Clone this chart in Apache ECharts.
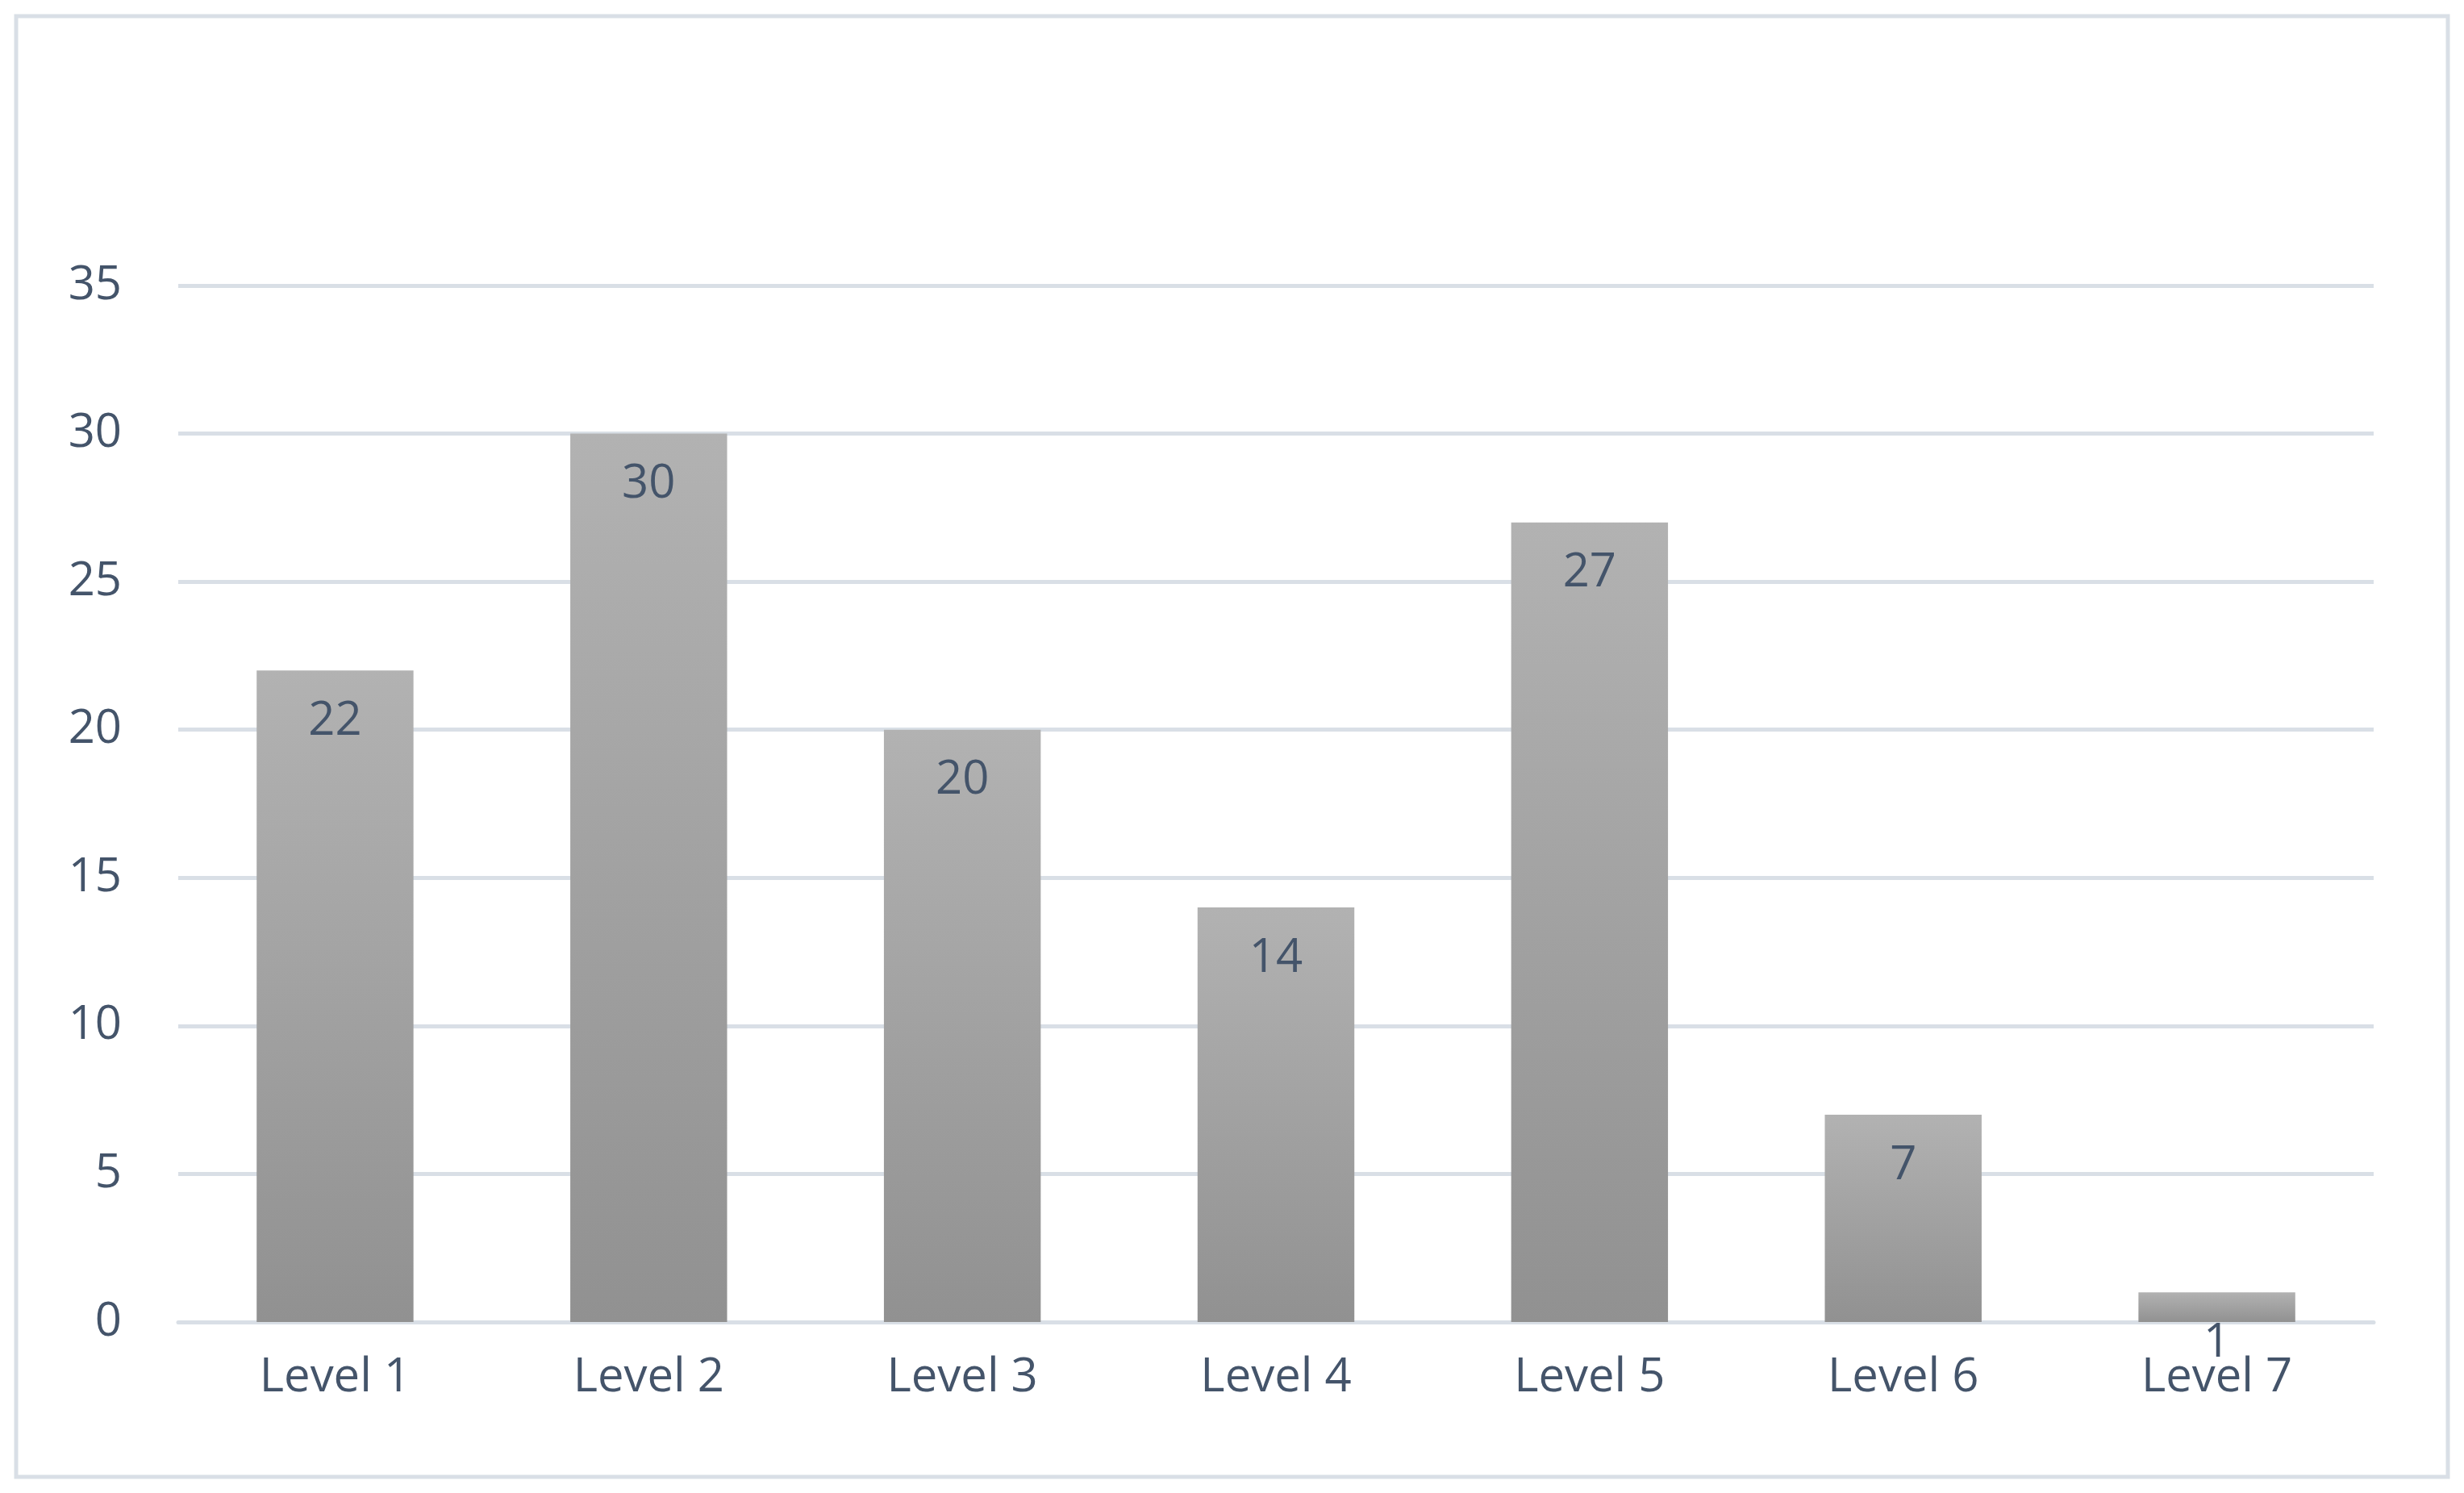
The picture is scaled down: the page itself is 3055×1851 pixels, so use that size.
<!DOCTYPE html>
<html>
<head>
<meta charset="utf-8">
<script src="https://cdn.jsdelivr.net/npm/echarts@6/dist/echarts.min.js"></script>
<style>
  html, body { margin: 0; padding: 0; background: #fff; }
  #chart { width: 3055px; height: 1851px; }
</style>
</head>
<body>
<div id="chart"></div>
<script>
// data
var categories = ['Level 1', 'Level 2', 'Level 3', 'Level 4', 'Level 5', 'Level 6', 'Level 7'];
var counts = [22, 30, 20, 14, 27, 7, 1];

var chart = echarts.init(document.getElementById('chart'));
var textColor = '#44546a';
var font = 'Open Sans';

chart.setOption({
	animation : false,
	graphic : [ {
		type : 'rect',
		shape : { x : 20, y : 20, width : 3015, height : 1811 },
		style : { fill : 'none', stroke : '#d9dfe6', lineWidth : 5 }
	} ],
	grid : {
		left : 221,
		right : 112,
		top : 354,
		bottom : 212
	},
	xAxis : {
		type : 'category',
		data : categories,
		axisTick : { show : false },
		axisLine : { lineStyle : { color : '#d9dfe6', width : 5 } },
		axisLabel : {
			color : textColor,
			fontFamily : font,
			fontSize : 58,
			margin : 40
		}
	},
	yAxis : {
		type : 'value',
		min : 0,
		max : 35,
		interval : 5,
		axisLine : { show : false },
		axisTick : { show : false },
		splitLine : { lineStyle : { color : '#d9dfe6', width : 5 } },
		axisLabel : {
			color : textColor,
			fontFamily : font,
			fontSize : 58,
			margin : 70
		}
	},
	series : [ {
		type : 'bar',
		data : counts,
		barWidth : '50%',
		itemStyle : {
			color : new echarts.graphic.LinearGradient(0, 0, 0, 1, [
				{ offset : 0, color : '#b2b2b2' },
				{ offset : 1, color : '#919191' }
			])
		},
		label : {
			show : true,
			position : 'insideTop',
			distance : 34,
			color : textColor,
			fontFamily : font,
			fontSize : 58
		}
	} ]
});
</script>
</body>
</html>
